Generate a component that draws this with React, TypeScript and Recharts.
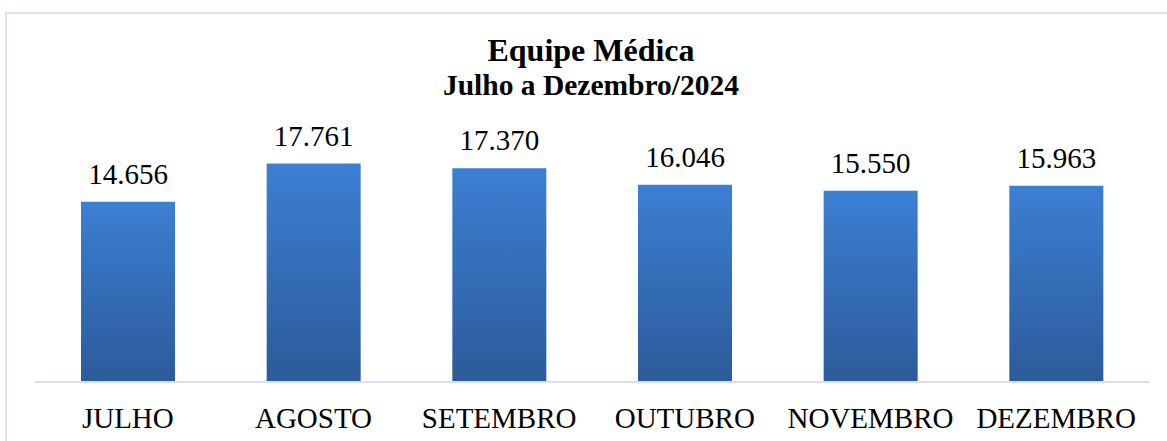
import React from 'react';
import { BarChart, Bar, XAxis, YAxis, LabelList } from 'recharts';

const categories = ['JULHO', 'AGOSTO', 'SETEMBRO', 'OUTUBRO', 'NOVEMBRO', 'DEZEMBRO'];
const values = [14656, 17761, 17370, 16046, 15550, 15963];
const titleLine1 = 'Equipe Médica';
const titleLine2 = 'Julho a Dezembro/2024';

const data = categories.map((c, i) => ({ name: c, value: values[i] }));

const FONT = '"Liberation Serif", "Times New Roman", serif';

const fmt = (v: number) => String(v).replace(/\B(?=(\d{3})+(?!\d))/g, '.');

const Tick = (props: any) => {
  const { x, y, payload } = props;
  return (
    <text x={x} y={y} dy={46} textAnchor="middle" style={{ fontFamily: FONT }} fontSize={29} fill="#000">
      {payload.value}
    </text>
  );
};

const ValueLabel = (props: any) => {
  const { x, y, width, value } = props;
  return (
    <text x={x + width / 2} y={y - 18} textAnchor="middle" style={{ fontFamily: FONT }} fontSize={29} fill="#000">
      {fmt(value)}
    </text>
  );
};

export default function App() {
  return (
    <div style={{ position: 'absolute', left: 0, top: 0, width: 1167, height: 441, overflow: 'hidden', background: '#fff' }}>
      <div style={{ position: 'absolute', left: 5, top: 12, width: 1250, height: 600, border: '2px solid #d6e4f4', boxSizing: 'border-box' }} />
      <svg style={{ position: 'absolute', left: 0, top: 0 }} width={1167} height={441}>
        <text x={591} y={61} textAnchor="middle" style={{ fontFamily: FONT }} fontWeight="bold" fontSize={32} fill="#000">{titleLine1}</text>
        <text x={591} y={95} textAnchor="middle" style={{ fontFamily: FONT }} fontWeight="bold" fontSize={29.5} fill="#000">{titleLine2}</text>
      </svg>
      <div style={{ position: 'absolute', left: 0, top: 0 }}>
        <BarChart width={1167} height={441} data={data} margin={{ top: 136, right: 18, bottom: 0, left: 35 }}>
          <defs>
            <linearGradient id="barGrad" x1="0" y1="0" x2="0" y2="1">
              <stop offset="0%" stopColor="#3c7fd3" />
              <stop offset="100%" stopColor="#2b5b9a" />
            </linearGradient>
          </defs>
          <XAxis
            dataKey="name"
            height={59}
            tickLine={false}
            tickSize={0}
            tickMargin={0}
            interval={0}
            axisLine={{ stroke: '#d5e1f1', strokeWidth: 2 }}
            tick={<Tick />}
          />
          <YAxis hide domain={[0, 20000]} />
          <Bar dataKey="value" fill="url(#barGrad)" barSize={94} isAnimationActive={false}>
            <LabelList dataKey="value" content={<ValueLabel />} />
          </Bar>
        </BarChart>
      </div>
    </div>
  );
}
